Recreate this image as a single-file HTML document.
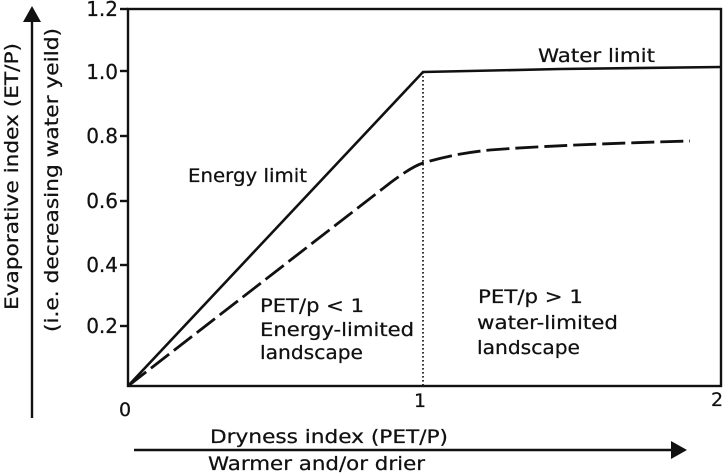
<!DOCTYPE html>
<html><head><meta charset="utf-8"><style>
html,body{margin:0;padding:0;background:#fff;}
svg{display:block;}
text{font-family:"DejaVu Sans","Liberation Sans",sans-serif;fill:#111;stroke:#111;stroke-width:0.25;}
</style></head><body>
<svg width="726" height="474" viewBox="0 0 726 474" xmlns="http://www.w3.org/2000/svg">
<rect width="726" height="474" fill="#fff"/>
<!-- plot box -->
<rect x="128" y="9" width="593" height="377" fill="none" stroke="#111" stroke-width="2.4"/>
<!-- y ticks -->
<g stroke="#111" stroke-width="2.4">
<line x1="120" y1="9" x2="128" y2="9"/>
<line x1="120" y1="71" x2="128" y2="71"/>
<line x1="120" y1="136" x2="128" y2="136"/>
<line x1="120" y1="201" x2="128" y2="201"/>
<line x1="120" y1="265" x2="128" y2="265"/>
<line x1="120" y1="326" x2="128" y2="326"/>
</g>
<g font-size="20" text-anchor="end">
<text x="118" y="16">1.2</text>
<text x="118" y="79">1.0</text>
<text x="118" y="143">0.8</text>
<text x="118" y="208">0.6</text>
<text x="118" y="272">0.4</text>
<text x="118" y="333">0.2</text>
</g>
<g font-size="19" text-anchor="middle">
<text x="125" y="416">0</text>
<text x="420" y="407">1</text>
<text x="717" y="406">2</text>
</g>
<!-- dotted divider -->
<line x1="423" y1="72" x2="423" y2="386" stroke="#222" stroke-width="1.8" stroke-dasharray="1.6 2.4"/>
<!-- energy limit & water limit -->
<polyline points="128,386 423,72 560,69 721,67" fill="none" stroke="#111" stroke-width="2.6"/>
<!-- dashed curve -->
<path d="M128,386 L390,183 C405,172 414,166 423,163 C440,158 460,153 490,150 C540,146 620,143 690,141" fill="none" stroke="#111" stroke-width="2.8" stroke-dasharray="23 6"/>
<!-- labels -->
<text x="538" y="62" font-size="19" textLength="117" lengthAdjust="spacingAndGlyphs">Water limit</text>
<text x="188" y="182" font-size="19" textLength="119" lengthAdjust="spacingAndGlyphs">Energy limit</text>
<text x="260" y="312" font-size="19" textLength="104" lengthAdjust="spacingAndGlyphs">PET/p &lt; 1</text>
<text x="260" y="336" font-size="19" textLength="154" lengthAdjust="spacingAndGlyphs">Energy-limited</text>
<text x="260" y="359" font-size="19" textLength="103" lengthAdjust="spacingAndGlyphs">landscape</text>
<text x="478" y="303" font-size="19" textLength="105" lengthAdjust="spacingAndGlyphs">PET/p &gt; 1</text>
<text x="477" y="329" font-size="19" textLength="141" lengthAdjust="spacingAndGlyphs">water-limited</text>
<text x="477" y="354" font-size="19" textLength="103" lengthAdjust="spacingAndGlyphs">landscape</text>
<!-- x axis arrow -->
<line x1="134" y1="450" x2="673" y2="450" stroke="#111" stroke-width="2.4"/>
<polygon points="671,441 687,450 671,459" fill="#111"/>
<text x="210" y="443" font-size="19" textLength="238" lengthAdjust="spacingAndGlyphs">Dryness index (PET/P)</text>
<text x="208" y="470" font-size="19" textLength="217" lengthAdjust="spacingAndGlyphs">Warmer and/or drier</text>
<!-- y axis arrow -->
<line x1="32" y1="418" x2="32" y2="20" stroke="#111" stroke-width="2.4"/>
<polygon points="23,22 32,6 41,22" fill="#111"/>
<text transform="translate(18,310) rotate(-90)" font-size="19" textLength="267" lengthAdjust="spacingAndGlyphs">Evaporative index (ET/P)</text>
<text transform="translate(58,332) rotate(-90)" font-size="19" textLength="304" lengthAdjust="spacingAndGlyphs">(i.e. decreasing water yeild)</text>
</svg>
</body></html>
